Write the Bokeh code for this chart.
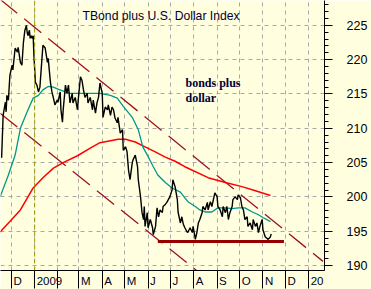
import pandas as pd
from bokeh.plotting import figure
from bokeh.models import FixedTicker, Span, Label, Range1d
from bokeh.embed import file_html
from bokeh.resources import INLINE

# ---------------- data ----------------
base_date = pd.Timestamp("2008-11-16")

# daily-ish closes: day offset from base_date, value
price_day = [2, 4, 7, 8, 9, 11, 13, 16, 17, 20,
             23, 24, 27, 29, 31, 33, 35, 36, 37, 39,
             40, 41, 43, 44, 45, 47, 49, 51, 53, 56,
             57, 60, 63, 64, 67, 69, 71, 73, 76, 77,
             80, 81, 83, 84, 87, 89, 91, 93, 96, 97,
             100, 103, 104, 107, 109, 111, 113, 116, 117, 120,
             123, 124, 127, 129, 131, 133, 136, 137, 140, 143,
             144, 147, 149, 151, 153, 156, 157, 160, 163, 164,
             167, 169, 171, 173, 176, 177, 180, 183, 184, 187,
             189, 191, 192, 193, 196, 197, 200, 203, 204, 207,
             209, 211, 213, 216, 217, 220, 222, 224, 226, 229,
             230, 233, 236, 237, 240, 242, 244, 246, 249, 250,
             253, 256, 257, 260, 262, 264, 266, 269, 270, 273,
             276, 277, 280, 282, 284, 286, 289, 290, 293, 296,
             297, 300, 302, 304, 306, 309, 310, 313, 316, 317,
             320, 322, 324, 326, 329, 330, 333, 336, 337, 340,
             342, 344, 346, 349, 350, 353, 357, 360, 361]
price_value = [205.7, 211.9, 213.8, 212.4, 214.8, 214.1, 217.7, 219.2, 218.5, 221.7,
               221.1, 221.8, 219.6, 219.2, 222.5, 224.3, 225.0, 224.0, 223.5, 224.3,
               223.1, 223.5, 223.1, 223.5, 220.6, 216.7, 216.3, 215.3, 216.0, 220.6,
               222.1, 221.7, 219.6, 220.2, 216.7, 215.3, 214.4, 213.4, 214.1, 213.8,
               215.3, 212.7, 210.9, 212.7, 216.3, 215.1, 216.3, 213.7, 215.1, 213.7,
               214.5, 212.7, 214.1, 217.5, 217.0, 215.6, 214.5, 215.1, 213.7, 214.5,
               212.7, 214.1, 212.2, 213.7, 214.5, 216.6, 215.1, 211.6, 213.1, 212.7,
               213.4, 211.9, 213.1, 212.7, 211.5, 210.8, 211.6, 209.3, 209.8, 206.8,
               207.3, 206.6, 203.9, 202.5, 205.0, 205.4, 206.1, 204.4, 202.5, 200.0,
               197.7, 196.7, 198.6, 195.7, 197.7, 195.5, 196.7, 195.5, 194.5, 195.7,
               198.4, 197.1, 198.1, 197.7, 198.6, 198.9, 199.2, 199.6, 200.0, 201.0,
               202.5, 201.5, 199.6, 197.8, 196.2, 197.1, 196.0, 195.5, 194.9, 194.8,
               195.5, 194.8, 195.7, 193.8, 194.8, 196.2, 196.7, 197.7, 198.6, 198.1,
               199.2, 198.1, 199.3, 198.6, 199.6, 200.6, 200.0, 198.6, 198.1, 197.1,
               198.6, 197.7, 198.6, 196.7, 197.7, 198.6, 199.6, 200.0, 199.6, 200.3,
               199.9, 198.6, 198.1, 196.7, 197.1, 195.7, 196.2, 195.2, 196.7, 195.7,
               196.2, 194.8, 195.7, 196.7, 195.2, 194.2, 193.8, 194.2, 194.6]

# short moving average (teal)
ma_short_day = [0, 11, 20, 27, 36, 44, 51, 57, 64, 71, 77, 87, 93, 107, 120, 133, 147,
                156, 164, 176, 184, 190, 197, 204, 210, 220, 229, 240, 250, 260, 266,
                273, 282, 290, 300, 309, 317, 326, 336, 344, 350, 360]
ma_short_value = [200.0, 203.2, 206.1, 210.0, 212.4, 214.4, 214.8, 215.6, 216.1, 216.0,
                  215.7, 215.3, 215.1, 215.1, 215.1, 215.1, 214.8, 214.4, 213.2, 211.6,
                  209.8, 207.3, 205.9, 204.4, 203.2, 202.1, 201.3, 200.7, 199.3, 198.6,
                  198.1, 197.8, 197.8, 198.4, 198.4, 198.3, 198.4, 198.4, 197.8, 197.4,
                  197.0, 196.4]

# long moving average (red)
ma_long_day = [0, 13, 27, 44, 57, 71, 84, 103, 120, 133, 147, 157, 167, 180, 193,
               206, 220, 233, 246, 277, 300, 322, 340, 360]
ma_long_value = [194.9, 196.4, 198.1, 201.3, 202.8, 204.2, 205.0, 206.0, 207.1, 207.9,
                 208.2, 208.4, 208.4, 208.0, 207.3, 206.6, 205.8, 205.2, 204.4, 202.8,
                 202.1, 201.5, 200.9, 200.2]

# trend channel (two parallel dashed lines)
channel_upper_dates = ["2008-11-16", "2010-01-20"]
channel_upper_values = [228.8, 190.6]
channel_lower_dates = ["2008-11-16", "2009-08-18"]
channel_lower_values = [212.2, 188.1]

# support line
support_dates = ["2009-06-14", "2009-11-29"]
support_level = 193.5

# year marker
marker_date = "2009-01-01"

# axes
month_starts = ["2008-12-01", "2009-01-01", "2009-02-01", "2009-03-01", "2009-04-01",
                "2009-05-01", "2009-06-01", "2009-07-01", "2009-08-01", "2009-09-01",
                "2009-10-01", "2009-11-01", "2009-12-01", "2010-01-01"]
month_labels = ["D", "2009", "", "M", "A", "M", "J", "J", "A", "S", "O", "N", "D", "20"]
y_ticks = [190, 195, 200, 205, 210, 215, 220, 225]
y_minor_ticks = list(range(189, 229))


def to_day(s):
    return (pd.Timestamp(s) - base_date).days


# ---------------- styling ----------------
BG = "#FFFFE0"
GRID = "#A8A8A8"
TEAL = "#00968C"
RED = "#FF0000"
CHANNEL = "#A0102A"
SUPPORT = "#960000"
OLIVE = "#9A9A00"
FONT = "Liberation Sans"
LABEL_PX = 11.5
PX_PER_DAY = 0.7508
X_START, X_END = 0.5, 432

p = figure(width=371, height=289,
           x_range=Range1d(X_START, X_END), y_range=Range1d(189.27, 228.63),
           y_axis_location="right", toolbar_location=None, output_backend="svg",
           min_border_left=0, min_border_top=0, min_border_right=47, min_border_bottom=18,
           background_fill_color=BG, border_fill_color=BG, outline_line_color=None)

month_day = [to_day(m) for m in month_starts]

# month labels sit just right of each month separator: put a (tick-less) major tick
# at the label centre and draw the separators as long minor ticks
char_w = {"D": 0.722, "M": 0.833, "A": 0.667, "J": 0.5, "S": 0.667, "O": 0.778,
          "N": 0.722, "2": 0.556, "0": 0.556, "9": 0.556}
label_ticks, overrides = [], {}
for d, t in zip(month_day, month_labels):
    if not t:
        continue
    w = sum(char_w.get(c, 0.556) for c in t) * LABEL_PX
    c = round(d + (2 + w / 2) / PX_PER_DAY, 2)
    if c > X_END:
        continue
    label_ticks.append(c)
    overrides[c] = t

xa = p.xaxis[0]
xa.ticker = FixedTicker(ticks=label_ticks, minor_ticks=month_day)
xa.major_tick_out = 0
xa.major_tick_in = 0
xa.major_tick_line_color = None
xa.minor_tick_out = 18
xa.minor_tick_in = 0
xa.minor_tick_line_color = "black"
xa.major_label_overrides = overrides
xa.major_label_standoff = -14
xa.major_label_text_font = FONT
xa.major_label_text_font_size = f"{LABEL_PX}px"
xa.major_label_text_color = "#000020"
xa.axis_line_color = "black"

ya = p.yaxis[0]
ya.ticker = FixedTicker(ticks=y_ticks, minor_ticks=y_minor_ticks)
ya.major_tick_out = 8
ya.major_tick_in = 0
ya.minor_tick_out = 4
ya.minor_tick_in = 0
ya.major_label_standoff = 14
ya.major_label_text_font = FONT
ya.major_label_text_font_size = "12.5px"
ya.major_label_text_color = "black"
ya.axis_line_color = "black"
ya.major_tick_line_color = "black"
ya.minor_tick_line_color = "black"

for g in (p.xgrid[0], p.ygrid[0]):
    g.grid_line_color = GRID
    g.grid_line_dash = "4 4"
    g.grid_line_width = 1
p.xgrid[0].ticker = FixedTicker(ticks=month_day, minor_ticks=[])

# year marker
p.add_layout(Span(location=to_day(marker_date), dimension="height",
                  line_color=OLIVE, line_dash="4 3", line_width=1))

# channel lines
p.line([to_day(d) for d in channel_upper_dates], channel_upper_values,
       line_color=CHANNEL, line_dash="22 9", line_width=1.3)
p.line([to_day(d) for d in channel_lower_dates], channel_lower_values,
       line_color=CHANNEL, line_dash="22 9", line_width=1.3)

# moving averages
p.line(ma_long_day, ma_long_value, line_color=RED, line_width=1.5)
p.line(ma_short_day, ma_short_value, line_color=TEAL, line_width=1.3)

# price
p.line(price_day, price_value, line_color="black", line_width=1.4)

# support
p.line([to_day(d) for d in support_dates], [support_level, support_level],
       line_color=SUPPORT, line_width=3)

# texts
p.add_layout(Label(x=82, y=254.5, x_units="screen", y_units="screen",
                   text="TBond plus U.S. Dollar Index", text_font=FONT,
                   text_font_size="12.2px", text_color="#000033",
                   text_baseline="alphabetic"))
p.add_layout(Label(x=185, y=188, x_units="screen", y_units="screen",
                   text="bonds plus", text_font="Liberation Serif",
                   text_font_size="12px", text_font_style="bold",
                   text_color="#000033", text_baseline="alphabetic"))
p.add_layout(Label(x=185, y=173, x_units="screen", y_units="screen",
                   text="dollar", text_font="Liberation Serif",
                   text_font_size="12px", text_font_style="bold",
                   text_color="#000033", text_baseline="alphabetic"))

open("out.html", "w").write(file_html(p, INLINE))
